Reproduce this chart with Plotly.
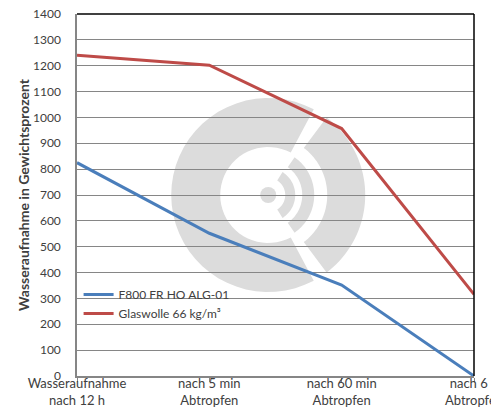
import math
import plotly.graph_objects as go

categories = ["Wasseraufnahme<br>nach 12 h", "nach 5 min<br>Abtropfen",
              "nach 60 min<br>Abtropfen", "nach 6 h<br>Abtropfen"]
series_names = ["F800 FR HO ALG-01", "Glaswolle 66 kg/m³"]
f800_values = [825, 552, 352, 0]
glaswolle_values = [1240, 1202, 957, 316]
y_ticks = list(range(0, 1401, 100))

BLUE = "#4A7EBB"
RED = "#BE4B48"
GREY_LOGO = "#DCDCDC"
FONT = "Lato, Carlito, Calibri, sans-serif"

x_pos = list(range(len(categories)))

fig = go.Figure()
fig.add_trace(go.Scatter(x=x_pos, y=f800_values, mode="lines", name=series_names[0],
                         line=dict(color=BLUE, width=3)))
fig.add_trace(go.Scatter(x=x_pos, y=glaswolle_values, mode="lines", name=series_names[1],
                         line=dict(color=RED, width=3)))


def sector(r_in, r_out, a0, a1, n=40):
    pts_out = [(r_out * math.cos(math.radians(a0 + (a1 - a0) * i / n)),
                r_out * math.sin(math.radians(a0 + (a1 - a0) * i / n))) for i in range(n + 1)]
    pts_in = [(r_in * math.cos(math.radians(a1 - (a1 - a0) * i / n)),
               r_in * math.sin(math.radians(a1 - (a1 - a0) * i / n))) for i in range(n + 1)]
    pts = pts_out + pts_in
    return "M " + " L ".join(f"{x:.2f},{y:.2f}" for x, y in pts) + " Z"


# watermark logo (decoration)
logo_anchor = dict(xref="x", yref="y", xanchor=1.445, yanchor=700,
                   xsizemode="pixel", ysizemode="pixel", layer="below",
                   line=dict(width=0), fillcolor=GREY_LOGO)
shapes = []
for path in [sector(48, 97, 62, 298), sector(59, 97, -53, 53),
             sector(34, 46, -55, 55), sector(17, 27, -58, 58)]:
    shapes.append(dict(type="path", path=path, **logo_anchor))
shapes.append(dict(type="circle", x0=-8, x1=8, y0=-8, y1=8, **logo_anchor))

# black top and right border
shapes.append(dict(type="line", xref="paper", yref="paper", x0=0, x1=1, y0=1, y1=1,
                   line=dict(color="black", width=1.5), layer="above"))
shapes.append(dict(type="line", xref="paper", yref="paper", x0=1, x1=1, y0=0, y1=1,
                   line=dict(color="black", width=1.5), layer="above"))

# the page body adds an 8px offset, so the figure is 8px smaller than the window
fig.update_layout(
    width=491, height=408,
    margin=dict(l=69, r=25, t=6, b=40),
    paper_bgcolor="white", plot_bgcolor="white",
    font=dict(family=FONT, size=12, color="#404040"),
    showlegend=True,
    legend=dict(x=0.004, y=0.265, xanchor="left", yanchor="top",
                bgcolor="rgba(0,0,0,0)", font=dict(size=12, color="#404040"),
                tracegroupgap=0, itemwidth=30),
    shapes=shapes,
    xaxis=dict(range=[0, 3], tickmode="array", tickvals=x_pos, ticktext=categories,
               showgrid=False, zeroline=False, showline=True, linecolor="#868686",
               linewidth=1.5, ticks="outside", ticklen=4, tickcolor="#868686",
               ticklabelstandoff=-9, automargin=False, ticklabeloverflow="allow",
               tickfont=dict(family=FONT, size=13, color="#404040")),
    yaxis=dict(range=[0, 1400], tickmode="array", tickvals=y_ticks,
               showgrid=True, gridcolor="#868686", gridwidth=1.2, zeroline=False,
               showline=True, linecolor="#868686", linewidth=1.5,
               automargin=False, ticklabeloverflow="allow",
               tickfont=dict(family=FONT, size=12, color="#404040"), ticklabelstandoff=12,
               title=dict(text="<b>Wasseraufnahme in Gewichtsprozent</b>",
                          font=dict(family=FONT, size=14, color="#404040"), standoff=0)),
)

fig.write_html("out.html")
